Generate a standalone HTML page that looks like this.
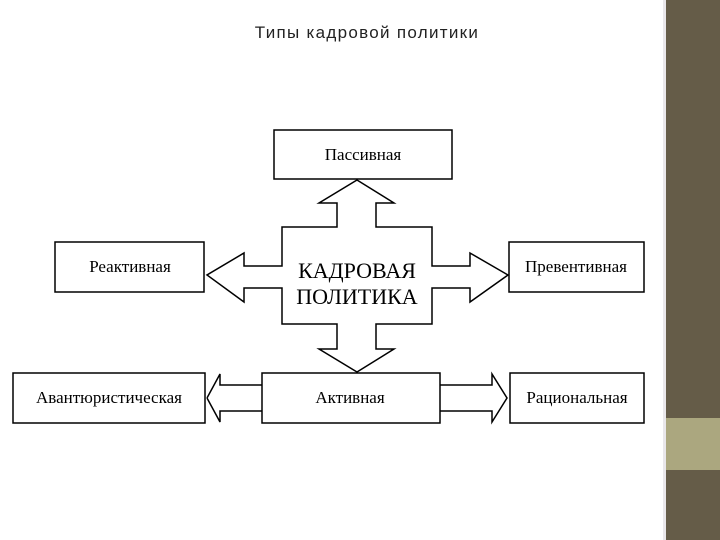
<!DOCTYPE html>
<html><head><meta charset="utf-8"><style>
body{margin:0;width:720px;height:540px;overflow:hidden;background:#fff;position:relative;font-family:"Liberation Serif",serif}
.t{position:absolute;left:0;top:23px;width:734px;text-align:center;font:17px "Liberation Sans","DejaVu Sans",sans-serif;color:#222;letter-spacing:1.3px}
svg{position:absolute;left:0;top:0}
</style></head><body>
<div style="position:absolute;left:666px;top:0;width:54px;height:540px;background:#655c48"></div>
<div style="position:absolute;left:666px;top:418px;width:54px;height:52px;background:#aba77f"></div>
<div style="position:absolute;left:663px;top:0;width:3px;height:540px;background:#e9e7ea"></div>
<div class="t">Типы кадровой политики</div>
<svg width="720" height="540" font-family="Liberation Serif, serif" fill="none" stroke="#000" stroke-width="1.5">
<rect x="274" y="130" width="178" height="49"/>
<rect x="55" y="242" width="149" height="50"/>
<rect x="509" y="242" width="135" height="50"/>
<rect x="13" y="373" width="192" height="50"/>
<rect x="262" y="373" width="178" height="50"/>
<rect x="510" y="373" width="134" height="50"/>
<path d="M357,180 L394,203 L376,203 L376,227 L432,227 L432,266 L470,266 L470,253 L508,275 L470,302 L470,288 L432,288 L432,324 L376,324 L376,349 L394,349 L357,372 L319,349 L337,349 L337,324 L282,324 L282,288 L244,288 L244,302 L207,275 L244,253 L244,266 L282,266 L282,227 L337,227 L337,203 L319,203 Z"/>
<path d="M207,398 L220,374 L220,385 L262,385 M262,411 L220,411 L220,422 L207,398"/>
<path d="M440,385 L492,385 L492,374 L507,398 L492,422 L492,411 L440,411"/>
<g fill="#000" stroke="none" font-size="17">
<text x="363" y="160" text-anchor="middle">Пассивная</text>
<text x="130" y="272" text-anchor="middle">Реактивная</text>
<text x="576" y="272" text-anchor="middle">Превентивная</text>
<text x="109" y="403" text-anchor="middle">Авантюристическая</text>
<text x="350" y="403" text-anchor="middle">Активная</text>
<text x="577" y="403" text-anchor="middle">Рациональная</text>
<text x="357" y="278" text-anchor="middle" font-size="22">КАДРОВАЯ</text>
<text x="357" y="304" text-anchor="middle" font-size="22">ПОЛИТИКА</text>
</g>
</svg>
</body></html>
